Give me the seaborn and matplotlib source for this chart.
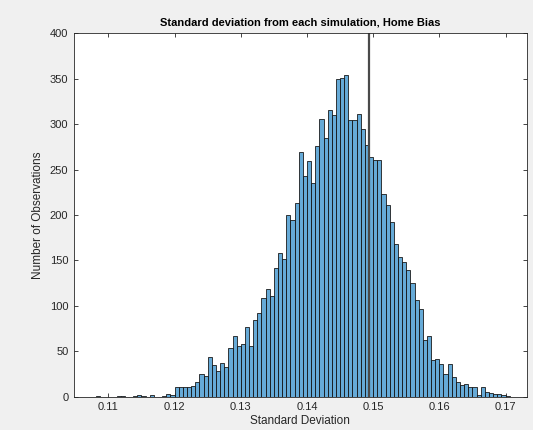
import numpy as np
import pandas as pd
import matplotlib
matplotlib.use("Agg")
import matplotlib.pyplot as plt
import seaborn as sns

# ---- data ----
bin_width = 0.000625
first_bin_left = 0.108125
counts = [
    1, 0, 0, 0, 0, 1, 1, 0, 0, 1, 2, 1, 0, 2, 0, 0, 1, 3, 2,          # 0.108125 .. 0.119375
    10, 10, 11, 11, 12, 16, 25, 23, 43, 35, 28, 37, 33, 53, 67, 56,  # 0.12 .. 0.129375
    58, 77, 56, 84, 92, 108, 118, 111, 142, 158, 152, 200, 195, 213, 269, 243,  # 0.13 .. 0.139375
    260, 235, 276, 306, 285, 316, 310, 350, 351, 354, 305, 305, 311, 295, 277, 264,  # 0.14 .. 0.149375
    261, 261, 223, 211, 192, 168, 154, 148, 139, 125, 106, 96, 62, 67, 40, 41,  # 0.15 .. 0.159375
    36, 25, 36, 21, 16, 13, 14, 10, 10, 2, 10, 5, 4, 3, 3, 2,        # 0.16 .. 0.169375
    1,                                                               # 0.17
]
reference_sd = 0.1493
title = "Standard deviation from each simulation, Home Bias"
xlabel = "Standard Deviation"
ylabel = "Number of Observations"
xticks = [0.11, 0.12, 0.13, 0.14, 0.15, 0.16, 0.17]
xtick_labels = ["0.11", "0.12", "0.13", "0.14", "0.15", "0.16", "0.17"]
yticks = [0, 50, 100, 150, 200, 250, 300, 350, 400]

n = len(counts)
edges = [round(first_bin_left + bin_width * i, 7) for i in range(n + 1)]
centers = [(edges[i] + edges[i + 1]) / 2 for i in range(n)]
df = pd.DataFrame({"sd": centers, "count": counts})

sns.set_style("ticks")
plt.rcParams["font.family"] = ["Liberation Sans", "DejaVu Sans"]

fig = plt.figure(figsize=(5.33, 4.30), dpi=100, facecolor="#f0f0f0")
ax = fig.add_axes([0.1388, 0.0779, 0.8494, 0.8442])
ax.set_facecolor("white")

sns.histplot(data=df, x="sd", weights="count", bins=edges, ax=ax,
             color="#0072bd", alpha=0.6, edgecolor="#1a1a1a", linewidth=0.6)

ax.axvline(reference_sd, color="#4a4a4a", linewidth=1.6)

ax.set_xlim(0.1048, 0.1732)
ax.set_ylim(0, 400)
ax.set_xticks(xticks)
ax.set_xticklabels(xtick_labels)
ax.set_yticks(yticks)

dark = "#262626"
for s in ax.spines.values():
    s.set_visible(True)
    s.set_color(dark)
    s.set_linewidth(0.6)
ax.tick_params(direction="in", top=True, right=True, length=3, width=0.6,
               colors=dark, labelsize=8, pad=4)
ax.set_xlabel(xlabel, fontsize=8.5, color=dark, labelpad=2)
ax.set_ylabel(ylabel, fontsize=8.5, color=dark, labelpad=4)
ax.set_title(title, fontsize=8, fontweight="bold", color="black", pad=6)

fig.savefig("out.png", dpi=100, facecolor=fig.get_facecolor())
